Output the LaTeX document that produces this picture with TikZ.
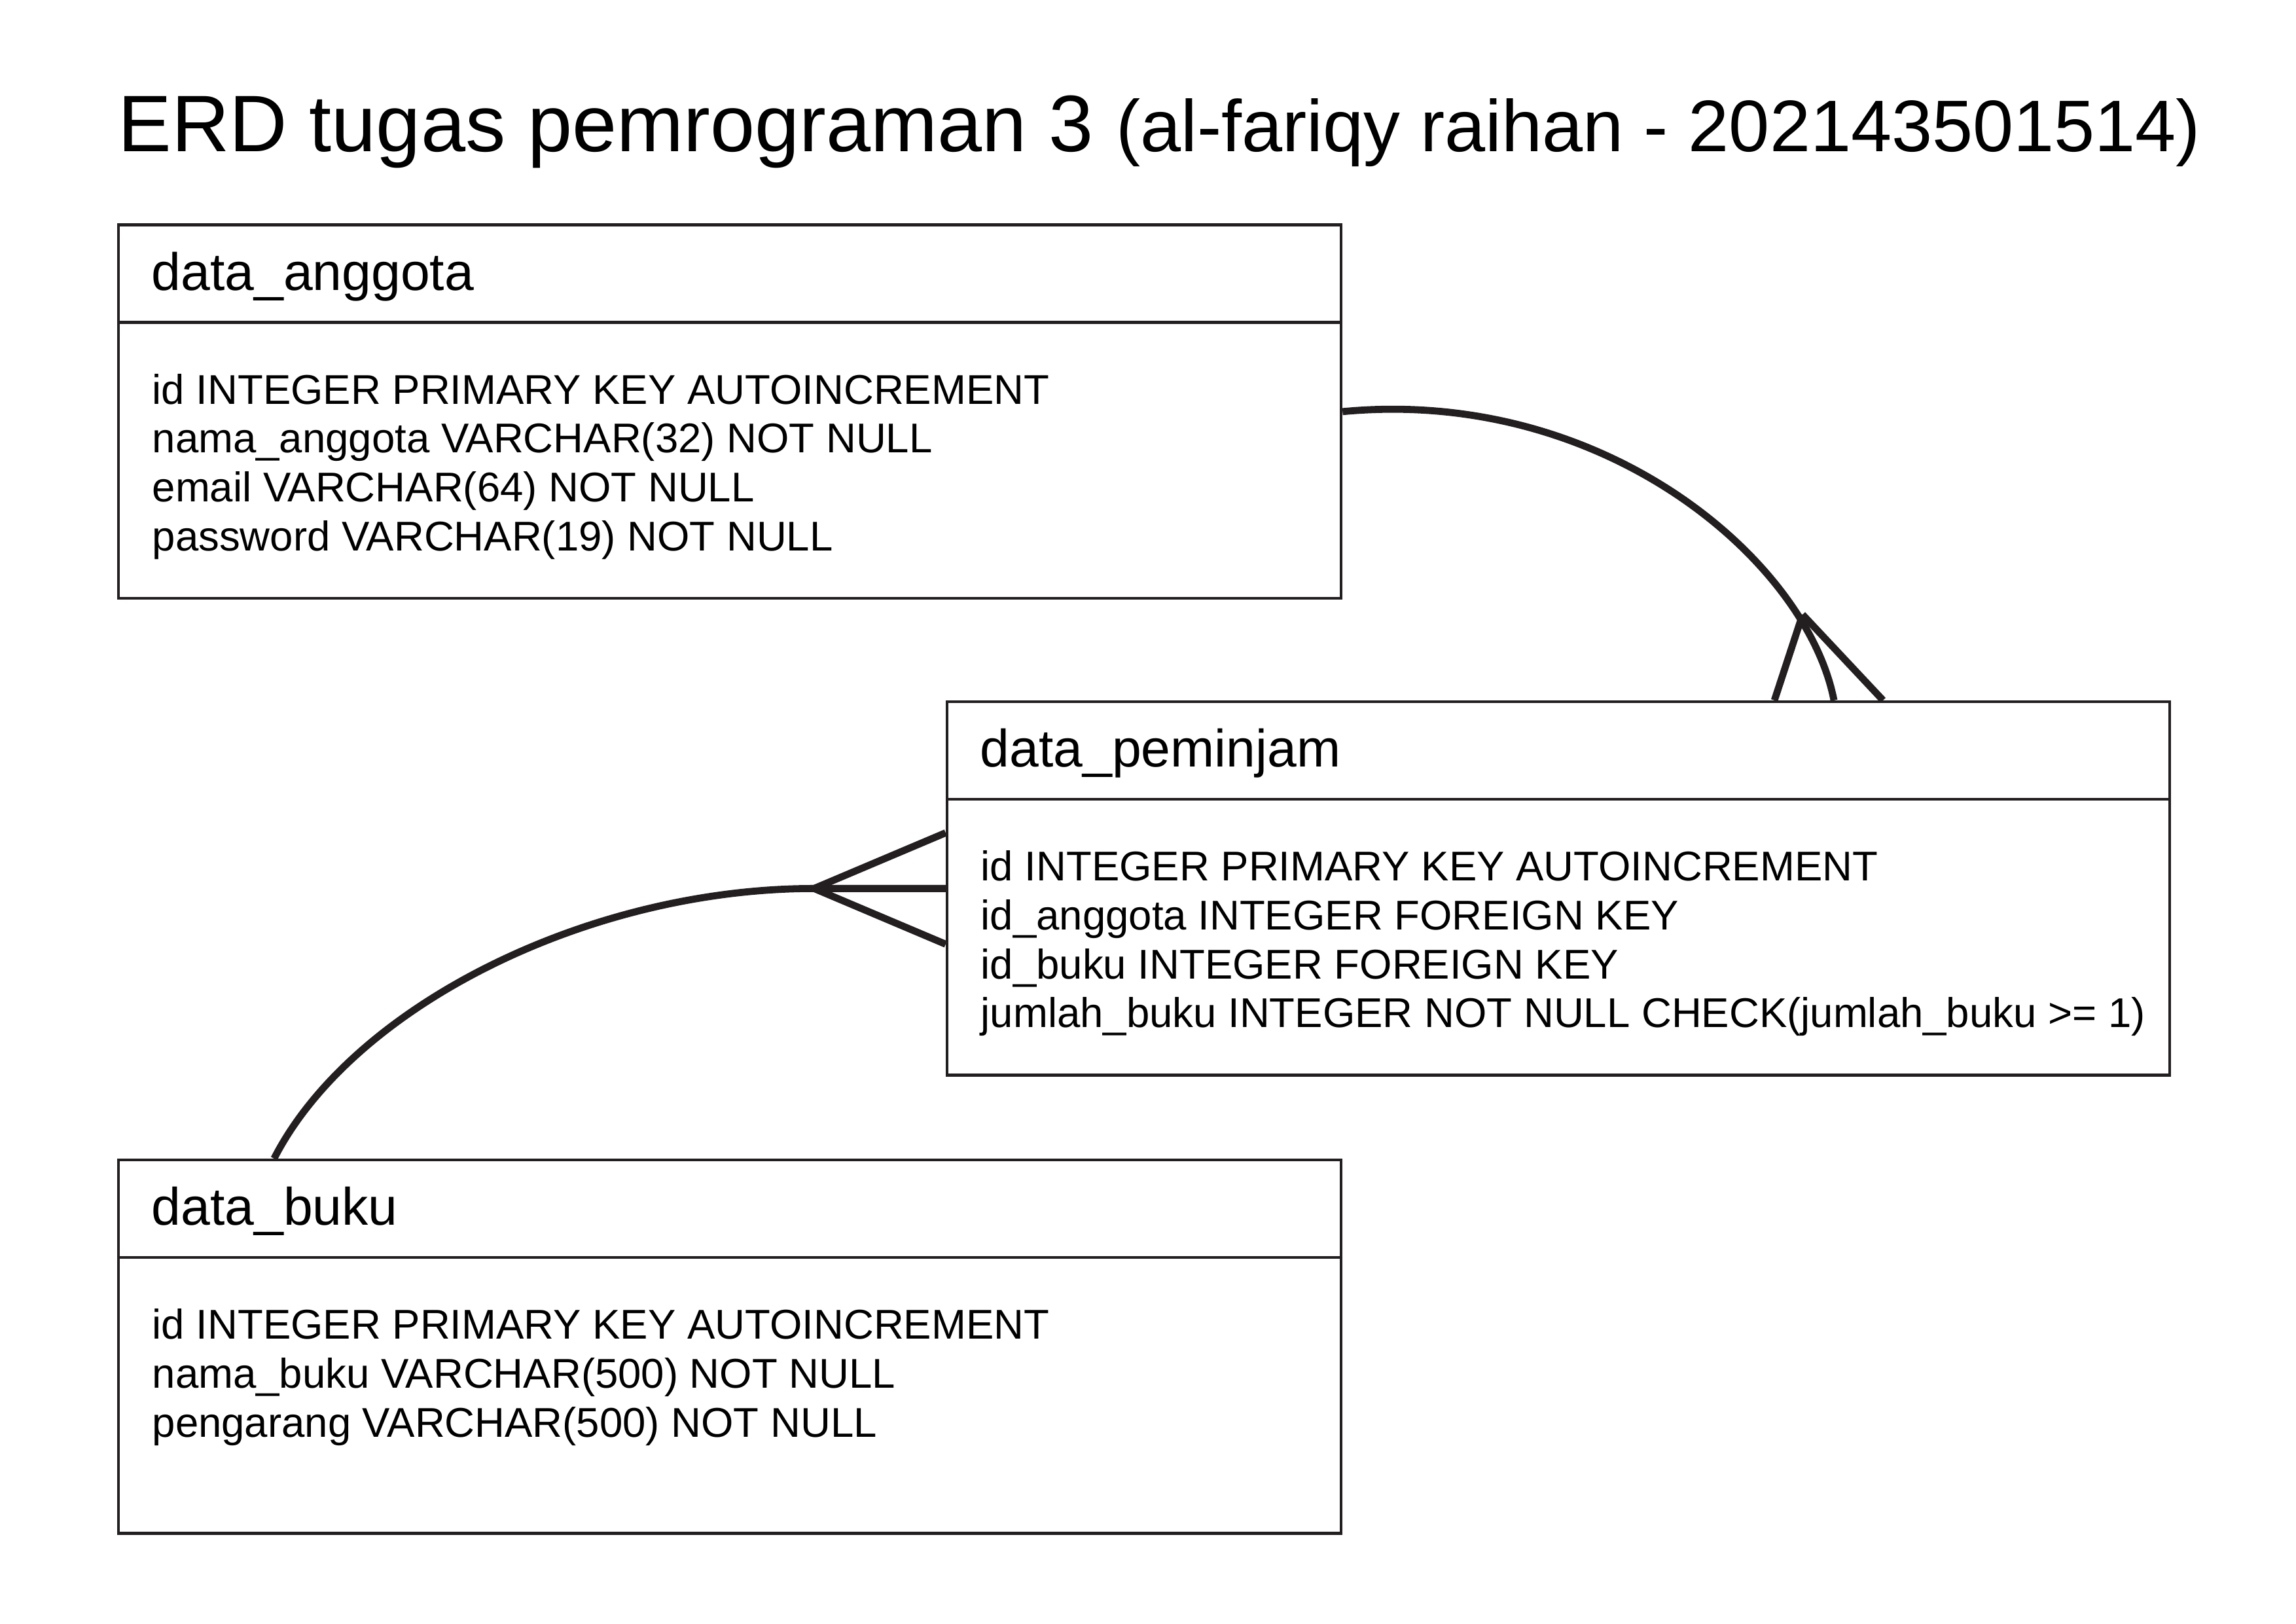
\documentclass[tikz,border=0pt]{standalone}
\usepackage{fontspec}
\setmainfont{Liberation Sans}
\usetikzlibrary{calc}
\definecolor{erdline}{RGB}{35,31,32}

\begin{document}
\begin{tikzpicture}[
    tbl/.style={draw=erdline, line width=1.1pt, minimum width=15.815cm,
      minimum height=4.83cm, inner sep=0pt},
    tblrule/.style={draw=erdline, line width=1.1pt},
    tblname/.style={anchor=base west, inner sep=0pt, font=\fontsize{19.4}{23}\selectfont},
    tblfield/.style={anchor=base west, inner sep=0pt, font=\fontsize{15.3}{18}\selectfont},
    rel/.style={draw=erdline, line width=2.6pt},
  ]
  \useasboundingbox (0,0) rectangle (29.7,21);
  % title
  \node[anchor=base west, inner sep=0pt] (title) at (1.52,19.04)
    {\fontsize{29.5}{34}\selectfont ERD tugas pemrograman 3 \fontsize{26.9}{30}\selectfont(al-fariqy raihan - 202143501514)};

  % tables
  \node[tbl] (anggota)  at (9.440,15.676) {};
  \node[tbl] (peminjam) at (20.159,9.508) {};
  \node[tbl] (buku)     at (9.440,3.581) {};
  \foreach \t in {anggota,peminjam,buku}
    \draw[tblrule] ($(\t.north west)+(0,-1.28)$) -- ($(\t.north east)+(0,-1.28)$);

  \node[tblname] (anggota-name)  at ($(anggota.north west)+(0.44,-0.864)$) {data\_anggota};
  \node[tblname] (peminjam-name) at ($(peminjam.north west)+(0.44,-0.864)$) {data\_peminjam};
  \node[tblname] (buku-name)     at ($(buku.north west)+(0.44,-0.864)$) {data\_buku};

  % columns
  \foreach \f [count=\i from 0] in {id INTEGER PRIMARY KEY AUTOINCREMENT,
      nama\_anggota VARCHAR(32) NOT NULL, email VARCHAR(64) NOT NULL,
      password VARCHAR(19) NOT NULL}
    \node[tblfield] (anggota-f\i) at ($(anggota.north west)+(0.45,{-2.337-0.632*\i})$) {\f};
  \foreach \f [count=\i from 0] in {id INTEGER PRIMARY KEY AUTOINCREMENT,
      id\_anggota INTEGER FOREIGN KEY, id\_buku INTEGER FOREIGN KEY,
      jumlah\_buku INTEGER NOT NULL CHECK(jumlah\_buku >= 1)}
    \node[tblfield] (peminjam-f\i) at ($(peminjam.north west)+(0.45,{-2.337-0.632*\i})$) {\f};
  \foreach \f [count=\i from 0] in {id INTEGER PRIMARY KEY AUTOINCREMENT,
      nama\_buku VARCHAR(500) NOT NULL, pengarang VARCHAR(500) NOT NULL}
    \node[tblfield] (buku-f\i) at ($(buku.north west)+(0.45,{-2.337-0.632*\i})$) {\f};

  % relations (crow's foot on data_peminjam)
  \coordinate (bukutop) at ($(buku.north west)+(2.032,0)$);
  \coordinate (pemtop)  at ($(peminjam.north)+(3.564,0)$);
  \coordinate (foot1)   at ($(peminjam.north)+(3.158,1.109)$);
  \coordinate (foot2)   at ($(peminjam.west)+(-1.702,0)$);

  \draw[rel] (anggota.east) .. controls +(3.395,0.322) and +(-0.35,1.795) .. (pemtop);
  \draw[rel] (foot1) -- ($(peminjam.north)+(2.794,0)$);
  \draw[rel] (foot1) -- ($(peminjam.north)+(4.199,0)$);

  \draw[rel] (bukutop) .. controls +(1.007,1.964) and +(-2.929,0) .. (foot2) -- (peminjam.west);
  \draw[rel] (foot2) -- ($(peminjam.west)+(0,0.72)$);
  \draw[rel] (foot2) -- ($(peminjam.west)+(0,-0.72)$);
\end{tikzpicture}
\end{document}
